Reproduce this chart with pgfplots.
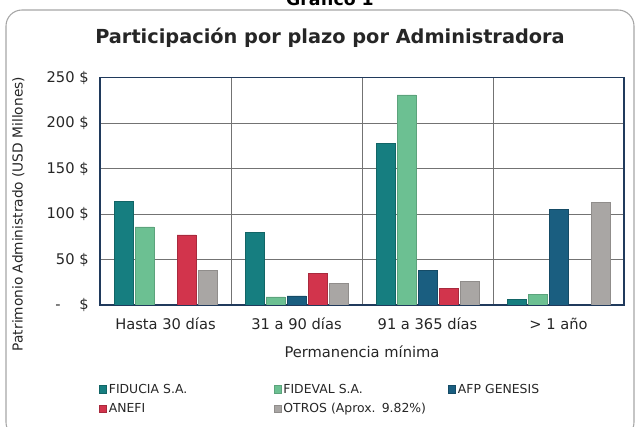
\documentclass[border=0pt]{standalone}
\usepackage{pgfplots}
\pgfplotsset{compat=1.18}
\usepackage{fontspec}
\setmainfont{DejaVu Sans}

\definecolor{cFiducia}{HTML}{167E80}
\definecolor{cFideval}{HTML}{6CC092}
\definecolor{cAfp}{HTML}{1A5E80}
\definecolor{cAnefi}{HTML}{D2344C}
\definecolor{cOtros}{HTML}{A9A6A4}
\definecolor{frameblue}{HTML}{203A5C}

\begin{document}
\begin{tikzpicture}
  % page: 640x427 px at 0.75pt/px, plot area lower-left at (0,0)
  \useasboundingbox (-75pt,-91.5pt) rectangle (405pt,228.75pt);
  \draw[gray!70, line width=0.8pt, rounded corners=12pt]
    (-70.5pt,-100pt) rectangle (400.5pt,221.25pt);
  \node[font=\bfseries\fontsize{13}{15}\selectfont] at (172.5pt,230pt) {Gráfico 1};
  \node[font=\bfseries\fontsize{14.5}{17}\selectfont, text=black!85] at (172.5pt,200.25pt)
    {Participación por plazo por Administradora};

  \begin{axis}[
      at={(0,0)}, anchor=south west,
      scale only axis,
      width=393pt, height=170.5pt,
      ybar=1.75pt,
      bar width=14pt,
      xmin=-0.5, xmax=3.5,
      ymin=0, ymax=250,
      xtick={0,1,2,3},
      xticklabels={Hasta 30 días, 31 a 90 días, 91 a 365 días, > 1 año},
      minor xtick={0.5,1.5,2.5},
      ytick={0,50,100,150,200,250},
      yticklabels={{-\phantom{0}\ \ \$}, {50 \$}, {100 \$}, {150 \$}, {200 \$}, {250 \$}},
      major tick length=0pt, minor tick length=0pt,
      ymajorgrids, xminorgrids,
      grid style={black!55, line width=0.6pt},
      minor grid style={black!55, line width=0.6pt},
      axis line style={frameblue, line width=0.8pt},
      ticklabel style={font=\fontsize{11}{13}\selectfont, text=black!85},
      xticklabel style={yshift=-6pt},
      yticklabel style={xshift=-5pt},
      xlabel={Permanencia mínima},
      xlabel style={font=\fontsize{11}{13}\selectfont, text=black!85, yshift=-5pt},
      ylabel={Patrimonio Administrado (USD Millones)},
      ylabel style={at={(rel axis cs:-0.156,0.40)}, anchor=center,
        font=\fontsize{10.3}{12}\selectfont, text=black!85},
      legend columns=3,
      legend style={draw=none, fill=none, at={(-0.01,-0.325)}, anchor=north west,
        font=\fontsize{9.3}{11}\selectfont, text=black!85,
        row sep=3pt,
        nodes={text width=122pt, inner sep=1.5pt, align=left}},
      legend image code/.code={\fill[#1] (0pt,-2.8pt) rectangle (5.5pt,2.8pt);},
    ]
    \addplot[fill=cFiducia, draw=cFiducia!80!black] coordinates {(0,114) (1,80) (2,178) (3,6)};
    \addplot[fill=cFideval, draw=cFideval!85!black] coordinates {(0,86) (1,9) (2,231) (3,12)};
    \addplot[fill=cAfp, draw=cAfp!80!black] coordinates {(1,10) (2,38) (3,105)};
    \addplot[fill=cAnefi, draw=cAnefi!80!black] coordinates {(0,77) (1,35) (2,18)};
    \addplot[fill=cOtros, draw=cOtros!85!black] coordinates {(0,38) (1,24) (2,26) (3,113)};
    \legend{FIDUCIA S.A., FIDEVAL S.A., AFP GENESIS, ANEFI, OTROS (Aprox. 9.82\%)}
  \end{axis}
\end{tikzpicture}
\end{document}
